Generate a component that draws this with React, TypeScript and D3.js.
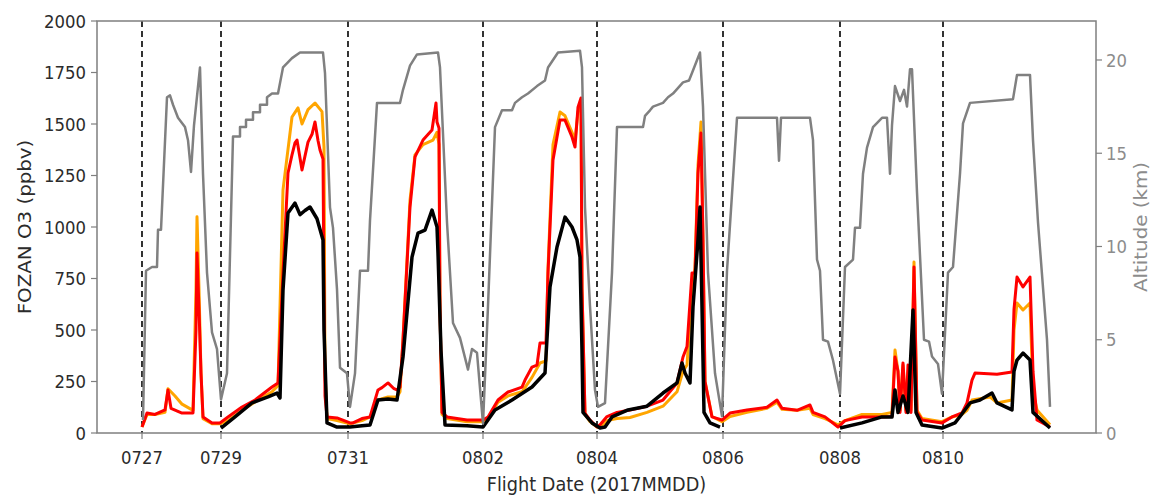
import React from "react";
import * as d3 from "d3";

// x = sample index along the concatenated flight record
const flightTicks = [45, 124, 251, 386, 500, 626, 743, 846];
const flightLabels = ["0727", "0729", "0731", "0802", "0804", "0806", "0808", "0810"];
const ozoneTicks = [0, 250, 500, 750, 1000, 1250, 1500, 1750, 2000];
const altTicks = [0, 5, 10, 15, 20];

type P = [number, number | null];

const altitude: P[] = [
  [46, 0.7], [49, 8.7], [55, 8.9], [60, 8.9], [61, 10.9], [64, 10.9], [70, 18.0], [73, 18.1], [76, 17.6],
  [81, 16.9], [88, 16.4], [91, 15.7], [94, 14.0], [97, 16.5], [103, 19.6], [106, 13.9], [110, 8.6],
  [115, 5.4], [120, 4.5], [124, 1.8], [130, 3.2], [136, 15.9], [143, 15.9], [143, 16.4], [149, 16.4],
  [149, 16.8], [156, 16.8], [156, 17.2], [163, 17.2], [163, 17.6], [170, 17.6], [170, 18.0], [175, 18.2],
  [181, 18.2], [186, 19.6], [195, 20.1], [203, 20.4], [226, 20.4], [228, 19.3], [233, 12.1], [236, 11.0],
  [240, 7.7], [243, 3.5], [250, 3.2], [253, 1.4], [258, 3.2], [263, 8.7], [271, 8.7], [273, 11.4],
  [280, 17.7], [303, 17.7], [306, 18.4], [313, 19.7], [320, 20.3], [341, 20.4], [343, 19.6], [350, 11.3],
  [356, 5.9], [363, 5.1], [371, 3.4], [375, 4.5], [380, 4.3], [386, 0.5], [391, 6.8], [398, 16.4],
  [405, 17.3], [415, 17.3], [418, 17.7], [425, 18.0], [431, 18.2], [440, 18.6], [448, 18.9], [451, 19.6],
  [461, 20.4], [483, 20.5], [485, 19.6], [488, 12.1], [493, 6.8], [498, 2.3], [501, 1.4], [508, 1.6],
  [515, 8.6], [520, 16.4], [546, 16.4], [548, 17.0], [553, 17.3], [556, 17.5], [566, 17.7], [571, 18.0],
  [576, 18.2], [586, 18.8], [592, 18.9], [595, 19.3], [603, 20.4], [606, 17.5], [611, 8.6], [618, 3.2],
  [625, 0.9], [630, 8.7], [640, 16.9], [680, 16.9], [682, 14.6], [684, 16.9], [713, 16.9], [716, 15.7],
  [720, 9.3], [723, 8.7], [726, 5.0], [731, 4.9], [736, 3.9], [743, 2.1], [748, 8.9], [756, 9.3],
  [758, 11.0], [763, 11.0], [766, 13.9], [770, 15.3], [776, 16.4], [785, 16.9], [790, 16.9], [793, 13.9],
  [795, 16.5], [798, 18.6], [803, 17.8], [807, 18.4], [810, 17.5], [813, 19.5], [815, 19.5], [820, 12.9],
  [827, 5.0], [832, 4.9], [835, 4.1], [841, 3.7], [845, 2.1], [851, 8.6], [856, 8.9], [863, 13.9],
  [866, 16.6], [873, 17.7], [916, 17.9], [920, 19.2], [933, 19.2], [936, 15.7], [941, 11.3], [950, 5.0],
  [953, 1.4],
];

const ozoneOrange: P[] = [
  [45, 29], [50, 90], [58, 90], [68, 100], [71, 215], [78, 180], [85, 140], [96, 110], [99, 700], [100, 1050],
  [102, 700], [104, 291], [106, 70], [115, 45], [123, 45], [131, 60], [145, 110], [158, 150], [175, 200],
  [181, 230], [186, 1180], [195, 1534], [201, 1578], [205, 1500], [211, 1570], [218, 1602], [225, 1560],
  [227, 1388], [228, 300], [230, 70], [240, 60], [253, 45], [265, 60], [273, 78], [281, 160], [291, 175],
  [300, 175], [303, 200], [306, 451], [313, 1130], [318, 1350], [326, 1400], [336, 1422], [340, 1460],
  [342, 1400], [343, 600], [345, 90], [350, 70], [370, 55], [386, 55], [391, 70], [401, 150], [411, 180],
  [425, 200], [435, 270], [443, 340], [449, 350], [451, 800], [456, 1400], [463, 1558], [468, 1540],
  [475, 1460], [478, 1420], [481, 1560], [484, 1600], [485, 700], [488, 90], [493, 55], [500, 29],
  [503, 30], [510, 60], [520, 70], [533, 75], [550, 100], [566, 130], [580, 200], [586, 300], [590, 330],
  [595, 700], [598, 800], [601, 1300], [604, 1510], [606, 937], [608, 250], [615, 80], [625, 55], [633, 80],
  [650, 100], [670, 120], [680, 150], [685, 115], [700, 110], [713, 120], [716, 90], [728, 70], [741, 40],
  [748, 60], [765, 90], [785, 90], [795, 100], [798, 403], [801, 300], [803, 110], [806, 330], [809, 110],
  [811, 300], [814, 110], [817, 830], [820, 110], [825, 70], [845, 55], [855, 78], [865, 90], [870, 110],
  [875, 160], [893, 175], [900, 146], [915, 160], [917, 500], [920, 631], [926, 597], [933, 631], [936, 200],
  [940, 112], [953, 40],
];

const ozoneRed: P[] = [
  [45, 29], [50, 97], [58, 90], [68, 112], [71, 209], [74, 120], [85, 97], [96, 97], [99, 500], [100, 874],
  [102, 600], [104, 291], [106, 78], [115, 49], [123, 49], [131, 78], [145, 126], [158, 160], [175, 223],
  [181, 243], [186, 777], [191, 1262], [195, 1350], [198, 1408], [200, 1422], [205, 1277], [211, 1412],
  [215, 1450], [218, 1510], [221, 1420], [223, 1374], [226, 1330], [227, 700], [228, 180], [230, 78],
  [240, 73], [253, 49], [256, 49], [265, 70], [273, 78], [281, 209], [285, 220], [291, 243], [297, 215],
  [300, 209], [303, 223], [306, 451], [313, 1097], [318, 1340], [326, 1422], [335, 1471], [339, 1602],
  [340, 1510], [342, 1480], [343, 600], [345, 100], [350, 78], [370, 63], [386, 63], [391, 78], [401, 160],
  [411, 199], [425, 223], [428, 257], [435, 320], [440, 330], [443, 437], [449, 437], [451, 777],
  [456, 1325], [463, 1519], [468, 1519], [475, 1437], [478, 1388], [481, 1582], [484, 1626], [485, 700],
  [488, 97], [493, 63], [500, 29], [503, 40], [510, 80], [520, 100], [533, 112], [550, 130], [566, 160],
  [580, 243], [586, 369], [590, 420], [595, 777], [598, 777], [601, 1262], [604, 1456], [606, 937],
  [608, 250], [615, 78], [625, 63], [633, 97], [650, 112], [670, 125], [680, 160], [685, 120], [700, 110],
  [713, 136], [716, 100], [728, 78], [741, 29], [748, 60], [765, 78], [785, 78], [795, 80], [798, 369],
  [801, 300], [803, 100], [806, 340], [809, 100], [811, 330], [814, 100], [817, 806], [820, 100], [825, 63],
  [845, 49], [855, 78], [865, 97], [870, 146], [875, 257], [878, 291], [900, 285], [915, 296], [917, 600],
  [920, 757], [926, 709], [933, 757], [936, 300], [940, 63], [953, 29],
];

const ozoneBlack: P[] = [
  [124, 24], [138, 78], [155, 146], [171, 175], [180, 194], [183, 170], [186, 694], [191, 1068], [198, 1116],
  [203, 1060], [208, 1080], [213, 1097], [220, 1040], [226, 937], [227, 500], [230, 49], [240, 29],
  [253, 29], [265, 35], [273, 39], [281, 160], [291, 165], [300, 160], [306, 369], [315, 854], [321, 970],
  [328, 985], [335, 1082], [340, 1000], [341, 873], [344, 400], [348, 39], [370, 35], [386, 29], [398, 112],
  [415, 160], [435, 223], [448, 291], [453, 709], [460, 903], [468, 1048], [475, 1000], [480, 937],
  [483, 854], [485, 400], [486, 100], [495, 49], [503, 24], [508, 29], [515, 78], [531, 112], [550, 130],
  [566, 194], [580, 243], [585, 340], [588, 291], [593, 243], [596, 612], [601, 937], [603, 1097],
  [605, 612], [607, 100], [613, 49], [623, 29], [624, null], [743, null], [743, 24], [765, 49], [785, 78],
  [795, 78], [798, 209], [801, 100], [806, 180], [811, 100], [816, 597], [819, 100], [825, 39], [845, 24],
  [858, 49], [863, 80], [873, 146], [883, 160], [895, 194], [900, 146], [915, 112], [917, 300], [920, 354],
  [926, 388], [933, 354], [936, 100], [953, 24],
];

const W = 1153;
const H = 502;
const L = 97, R = 1096, T = 21, B = 433;
const FONT = "DejaVu Sans, sans-serif";
const SY = 1.12; // vertical stretch of glyphs in the reference

export default function App() {
  const x = d3.scaleLinear().domain([0, 999]).range([L, R]);
  const yL = d3.scaleLinear().domain([0, 2000]).range([B, T]);
  const yR = d3.scaleLinear().domain([0, 22.09]).range([B, T]);

  const lineL = d3
    .line<P>()
    .defined((d) => d[1] !== null)
    .x((d) => x(d[0]))
    .y((d) => yL(d[1] as number));
  const lineR = d3
    .line<P>()
    .defined((d) => d[1] !== null)
    .x((d) => x(d[0]))
    .y((d) => yR(d[1] as number));

  const spine = "#7f7f7f";
  const darkText = "#2b2b2b";
  const greyText = "#8c8c8c";
  const tickFs = 16.5;
  const labelFs = 17.7;

  return (
    <svg
      width={W}
      height={H}
      style={{ position: "absolute", left: 0, top: 0, background: "#fff" }}
      fontFamily={FONT}
    >
      <rect x={0} y={0} width={W} height={H} fill="#fff" />
      {flightTicks.map((t) => (
        <line
          key={"d" + t}
          x1={x(t)}
          x2={x(t)}
          y1={T}
          y2={B}
          stroke="#000"
          strokeWidth={1.6}
          strokeDasharray="6,4"
        />
      ))}
      <path d={lineL(ozoneOrange) || ""} fill="none" stroke="#ffa500" strokeWidth={3} strokeLinejoin="round" />
      <path d={lineL(ozoneRed) || ""} fill="none" stroke="#ff0000" strokeWidth={3} strokeLinejoin="round" />
      <path d={lineL(ozoneBlack) || ""} fill="none" stroke="#000" strokeWidth={3.5} strokeLinejoin="round" />
      <path d={lineR(altitude) || ""} fill="none" stroke="#808080" strokeWidth={2.5} strokeLinejoin="round" />

      <rect x={L} y={T} width={R - L} height={B - T} fill="none" stroke={spine} strokeWidth={1.5} />

      {ozoneTicks.map((t) => (
        <g key={"l" + t}>
          <line x1={L - 6} x2={L} y1={yL(t)} y2={yL(t)} stroke={spine} strokeWidth={1.2} />
          <text
            transform={`translate(${L - 11},${yL(t)}) scale(1,${SY})`}
            dy="0.36em"
            textAnchor="end"
            fontSize={tickFs}
            fill={darkText}
          >
            {t}
          </text>
        </g>
      ))}
      {altTicks.map((t) => (
        <g key={"r" + t}>
          <line x1={R} x2={R + 6} y1={yR(t)} y2={yR(t)} stroke={spine} strokeWidth={1.2} />
          <text
            transform={`translate(${R + 10},${yR(t)}) scale(1,${SY})`}
            dy="0.36em"
            textAnchor="start"
            fontSize={tickFs}
            fill={greyText}
          >
            {t}
          </text>
        </g>
      ))}
      {flightTicks.map((t, i) => (
        <g key={"b" + t}>
          <line x1={x(t)} x2={x(t)} y1={B} y2={B + 6} stroke={spine} strokeWidth={1.2} />
          <text
            transform={`translate(${x(t)},${B + 24}) scale(1,${SY})`}
            dy="0.36em"
            textAnchor="middle"
            fontSize={tickFs}
            fill={darkText}
          >
            {flightLabels[i]}
          </text>
        </g>
      ))}

      <text
        transform={`translate(25,${(T + B) / 2}) rotate(-90) scale(${SY},1)`}
        textAnchor="middle"
        dy="0.36em"
        fontSize={labelFs}
        fill={darkText}
      >
        FOZAN O3 (ppbv)
      </text>
      <text
        transform={`translate(1141,${(T + B) / 2}) rotate(-90) scale(${SY},1)`}
        textAnchor="middle"
        dy="0.36em"
        fontSize={labelFs}
        fill={greyText}
      >
        Altitude (km)
      </text>
      <text
        transform={`translate(${(L + R) / 2},484) scale(1,${SY})`}
        dy="0.36em"
        textAnchor="middle"
        fontSize={labelFs}
        fill={darkText}
      >
        Flight Date (2017MMDD)
      </text>
    </svg>
  );
}
